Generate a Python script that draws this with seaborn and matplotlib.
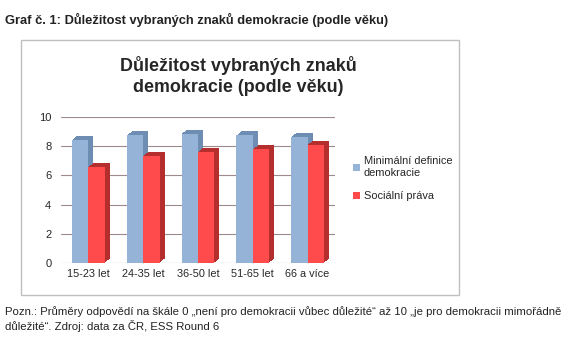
import matplotlib
matplotlib.use("Agg")
import matplotlib.pyplot as plt
import matplotlib.patches as mpatches
import matplotlib.patheffects as pe
import seaborn as sns
import pandas as pd

categories = ["15-23 let", "24-35 let", "36-50 let", "51-65 let", "66 a více"]
series_names = ["Minimální definice\ndemokracie", "Sociální práva"]
minimal_values = [8.45, 8.75, 8.85, 8.75, 8.65]
social_values = [6.6, 7.35, 7.6, 7.8, 8.1]
y_ticks = [0, 2, 4, 6, 8, 10]

outer_title = "Graf č. 1: Důležitost vybraných znaků demokracie (podle věku)"
chart_title = "Důležitost vybraných znaků\ndemokracie (podle věku)"
note_text = ("Pozn.: Průměry odpovědí na škále 0 „není pro demokracii vůbec důležité“ až 10 „je pro demokracii mimořádně\n"
             "důležité“. Zdroj: data za ČR, ESS Round 6")

front_colors = ["#95B3D7", "#FF4B4B"]
side_colors = ["#6E8DB3", "#B52E2E"]

df = pd.DataFrame({
    "kat": categories * 2,
    "rada": [series_names[0]] * len(categories) + [series_names[1]] * len(categories),
    "hodnota": minimal_values + social_values,
})

sns.set_theme(style="white")
plt.rcParams["font.family"] = ["Liberation Sans", "DejaVu Sans"]

W, H = 579, 346
fig = plt.figure(figsize=(W / 100, H / 100), dpi=100)

# chart frame
fig.patches.append(mpatches.Rectangle((21 / W, 1 - 295 / H), (459 - 21) / W, (295 - 40) / H,
                                      transform=fig.transFigure, fill=False,
                                      edgecolor="#BFBFBF", linewidth=1.0))

ax = fig.add_axes([61 / W, 1 - 263 / H, (335 - 61) / W, (263 - 117) / H])
sns.barplot(data=df, x="kat", y="hodnota", hue="rada", palette=front_colors,
            width=0.6, saturation=1, ax=ax, legend=False, edgecolor="none", linewidth=0)

for cont, side in zip(ax.containers, side_colors):
    for bar in cont:
        effects = [pe.SimplePatchShadow(offset=(0.45 * k, 0.37 * k), shadow_rgbFace=side, alpha=1.0, rho=1.0)
                   for k in range(8, 0, -1)]
        bar.set_path_effects(effects + [pe.Normal()])

ax.set_ylim(0, 10)
ax.set_yticks(y_ticks)
ax.set_yticklabels([str(t) for t in y_ticks], fontsize=8)
ax.tick_params(axis="x", labelsize=7.8, pad=4, length=0)
ax.tick_params(axis="y", pad=7, length=0)
ax.set_xlabel("")
ax.set_ylabel("")
ax.set_facecolor("none")
for s in ax.spines.values():
    s.set_visible(False)
ax.yaxis.grid(True, color="#9E8A8A", linewidth=0.8)
ax.set_axisbelow(True)

handles = [mpatches.Patch(facecolor=c, edgecolor="none") for c in front_colors]
fig.legend(handles, series_names, loc="upper left", bbox_to_anchor=(349 / W, 1 - 152 / H),
           frameon=False, fontsize=7.9, handlelength=0.6, handleheight=0.6,
           handletextpad=0.35, labelspacing=1.2, borderaxespad=0)

fig.text(238 / W, 1 - 76 / H, chart_title, ha="center", va="center", fontsize=12.9,
         weight="bold", linespacing=1.3)
fig.text(5 / W, 1 - 20 / H, outer_title, ha="left", va="center", fontsize=9.3, weight="bold",
         color="#222222")
fig.text(5 / W, 1 - 319 / H, note_text, ha="left", va="center", fontsize=8.2, linespacing=1.35,
         color="#222222")

fig.savefig("out.png", dpi=100)
